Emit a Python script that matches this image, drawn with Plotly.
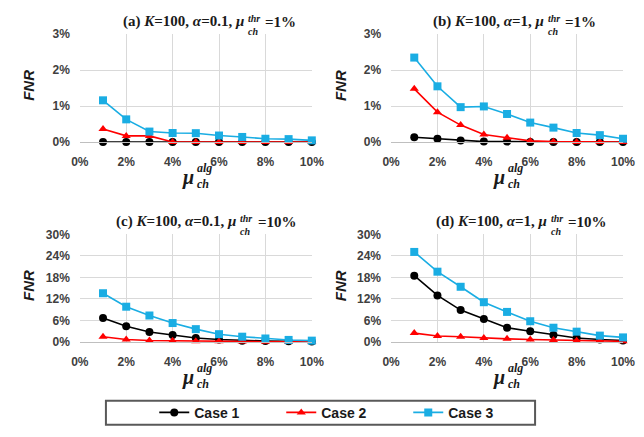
import plotly.graph_objects as go

# The page body adds an 8px margin, so the figure is 16px smaller than the window
# and every reference pixel position is shifted by 8px.
W, H = 644, 437
OFF = 8
FW, FH = W - 2 * OFF, H - 2 * OFF

mu_alg = [1, 2, 3, 4, 5, 6, 7, 8, 9, 10]  # percent

# (a) K=100, alpha=0.1, mu_thr=1%
a_case1 = [0, 0, 0, 0, 0, 0, 0, 0, 0, 0]
a_case2 = [0.36, 0.17, 0.17, 0, 0, 0, 0, 0, 0, 0]
a_case3 = [1.16, 0.63, 0.29, 0.25, 0.245, 0.18, 0.14, 0.09, 0.08, 0.045]
# (b) K=100, alpha=1, mu_thr=1%
b_case1 = [0.13, 0.09, 0.04, 0.01, 0.01, 0, 0, 0, 0, 0]
b_case2 = [1.48, 0.83, 0.47, 0.21, 0.12, 0.03, 0.01, 0, 0, 0]
b_case3 = [2.35, 1.55, 0.97, 0.99, 0.78, 0.54, 0.40, 0.25, 0.19, 0.09]
# (c) K=100, alpha=0.1, mu_thr=10%
c_case1 = [6.7, 4.4, 2.8, 1.95, 1.15, 0.7, 0.4, 0.3, 0.2, 0.15]
c_case2 = [1.5, 0.7, 0.45, 0.35, 0.25, 0.2, 0.15, 0.1, 0.1, 0.1]
c_case3 = [13.6, 9.85, 7.4, 5.3, 3.6, 2.2, 1.5, 1.0, 0.6, 0.4]
# (d) K=100, alpha=1, mu_thr=10%
d_case1 = [18.5, 13.0, 8.9, 6.4, 4.0, 3.0, 2.0, 1.15, 0.7, 0.45]
d_case2 = [2.5, 1.7, 1.5, 1.15, 0.9, 0.7, 0.6, 0.35, 0.35, 0.2]
d_case3 = [25.1, 19.6, 15.4, 11.1, 8.4, 5.8, 4.0, 2.9, 1.8, 1.3]

case_names = ["Case 1", "Case 2", "Case 3"]
x_ticks = [0, 2, 4, 6, 8, 10]
x_tick_labels = ["0%", "2%", "4%", "6%", "8%", "10%"]
y_ticks_top = [0, 1, 2, 3]
y_tick_labels_top = ["0%", "1%", "2%", "3%"]
y_ticks_bot = [0, 6, 12, 18, 24, 30]
y_tick_labels_bot = ["0%", "6%", "12%", "18%", "24%", "30%"]

panel_titles = [
    ("(a) <i>K</i>=100, <i>α</i>=0.1, <i>μ</i>", "=1%"),
    ("(b) <i>K</i>=100, <i>α</i>=1, <i>μ</i>", "=1%"),
    ("(c) <i>K</i>=100, <i>α</i>=0.1, <i>μ</i>", "=10%"),
    ("(d) <i>K</i>=100, <i>α</i>=1, <i>μ</i>", "=10%"),
]

colors = ["#000000", "#FF0000", "#1AADE3"]
symbols = ["circle", "triangle-up", "square"]

def px_x(p):
    return (p - OFF) / FW

def px_y(p):
    return 1 - (p - OFF) / FH

# panel geometry in reference pixels: (left, right, top, bottom)
panels = [
    (73, 313, 28, 140),
    (395, 635, 28, 140),
    (73, 313, 236, 348),
    (395, 635, 236, 348),
]
data_sets = [
    (a_case1, a_case2, a_case3),
    (b_case1, b_case2, b_case3),
    (c_case1, c_case2, c_case3),
    (d_case1, d_case2, d_case3),
]
mu_end = [245, 555, 237, 558]
title_y = [15, 15, 223, 223]

fig = go.Figure()
layout = dict(
    width=FW, height=FH,
    margin=dict(l=0, r=0, t=0, b=0),
    paper_bgcolor="white", plot_bgcolor="white",
    showlegend=True,
    font=dict(family="Liberation Sans, Arial", color="#404040"),
)
annotations = []
serif = "Liberation Serif"
tick_font = dict(family="Liberation Sans, Arial", size=12, color="#404040", weight="bold")

for i, ((l, r, t, b), ds) in enumerate(zip(panels, data_sets)):
    n = "" if i == 0 else str(i + 1)
    xa, ya = "x" + n, "y" + n
    top_row = i < 2
    for k, vals in enumerate(ds):
        fig.add_trace(go.Scatter(
            x=mu_alg, y=vals, xaxis=xa, yaxis=ya,
            mode="lines+markers", name=case_names[k],
            line=dict(color=colors[k], width=1.6),
            marker=dict(color=colors[k], symbol=symbols[k], size=8),
            cliponaxis=False, showlegend=(i == 0),
        ))
    layout["xaxis" + n] = dict(
        domain=[px_x(l), px_x(r)], anchor=ya, range=[0, 10],
        tickvals=x_ticks, ticktext=x_tick_labels,
        showgrid=True, gridcolor="#D9D9D9", gridwidth=1,
        showline=True, linecolor="#BFBFBF", linewidth=1,
        zeroline=False, ticks="", ticklabelstandoff=9, tickfont=tick_font,
    )
    layout["yaxis" + n] = dict(
        domain=[px_y(b), px_y(t)], anchor=xa,
        range=[0, 3] if top_row else [0, 30],
        tickvals=y_ticks_top if top_row else y_ticks_bot,
        ticktext=y_tick_labels_top if top_row else y_tick_labels_bot,
        showgrid=True, gridcolor="#D9D9D9", gridwidth=1,
        showline=False, zeroline=False, ticks="", ticklabelstandoff=9, tickfont=tick_font,
    )
    annotations.append(dict(
        text="<i>FNR</i>", textangle=-90, x=px_x(l - 53), y=px_y((t + b) / 2 - 3),
        xref="paper", yref="paper", showarrow=False, xanchor="center", yanchor="middle",
        font=dict(family="Liberation Sans, Arial", size=15, color="#1a1a1a", weight="bold"),
    ))
    # panel title: main text, stacked sup/sub scripts, tail
    main, tail = panel_titles[i]
    me = mu_end[i]
    ty = title_y[i]
    tfont = dict(family=serif, size=15, color="#1a1a1a", weight="bold")
    sfont = dict(family=serif, size=10, color="#1a1a1a", weight="bold")
    annotations.append(dict(text=main, x=px_x(me), y=px_y(ty), xref="paper", yref="paper",
                            showarrow=False, xanchor="right", yanchor="middle", font=tfont))
    annotations.append(dict(text="<i>thr</i><br><i>ch</i>", x=px_x(me), y=px_y(ty + 3),
                            xref="paper", yref="paper", align="left",
                            showarrow=False, xanchor="left", yanchor="middle", font=sfont))
    annotations.append(dict(text=tail, x=px_x(me + 18), y=px_y(ty), xref="paper", yref="paper",
                            showarrow=False, xanchor="left", yanchor="middle", font=tfont))
    # x axis title mu_ch^alg
    mx = l + 119
    annotations.append(dict(text="<i>μ</i>", x=px_x(mx + 1), y=px_y(b + 37), xref="paper", yref="paper",
                            showarrow=False, xanchor="right", yanchor="middle",
                            font=dict(family=serif, size=20, color="#1a1a1a", weight="bold")))
    annotations.append(dict(text="<i>alg</i><br><i>ch</i>", x=px_x(mx), y=px_y(b + 35),
                            xref="paper", yref="paper", align="left",
                            showarrow=False, xanchor="left", yanchor="middle",
                            font=dict(family=serif, size=12, color="#1a1a1a", weight="bold")))

layout["annotations"] = annotations
layout["shapes"] = [dict(
    type="rect", xref="paper", yref="paper",
    x0=px_x(100), x1=px_x(544), y0=px_y(434), y1=px_y(409),
    line=dict(color="#595959", width=2), fillcolor="rgba(0,0,0,0)", layer="below",
)]
layout["legend"] = dict(
    orientation="h", x=px_x(150), xanchor="left", y=px_y(421.5), yanchor="middle",
    borderwidth=0, bgcolor="rgba(0,0,0,0)",
    entrywidth=82, entrywidthmode="pixels", itemwidth=30,
    font=dict(family="Liberation Sans, Arial", size=14, color="#1a1a1a", weight="bold"),
    tracegroupgap=0,
)
fig.update_layout(**layout)
fig.write_html("out.html", config={"displayModeBar": False})
